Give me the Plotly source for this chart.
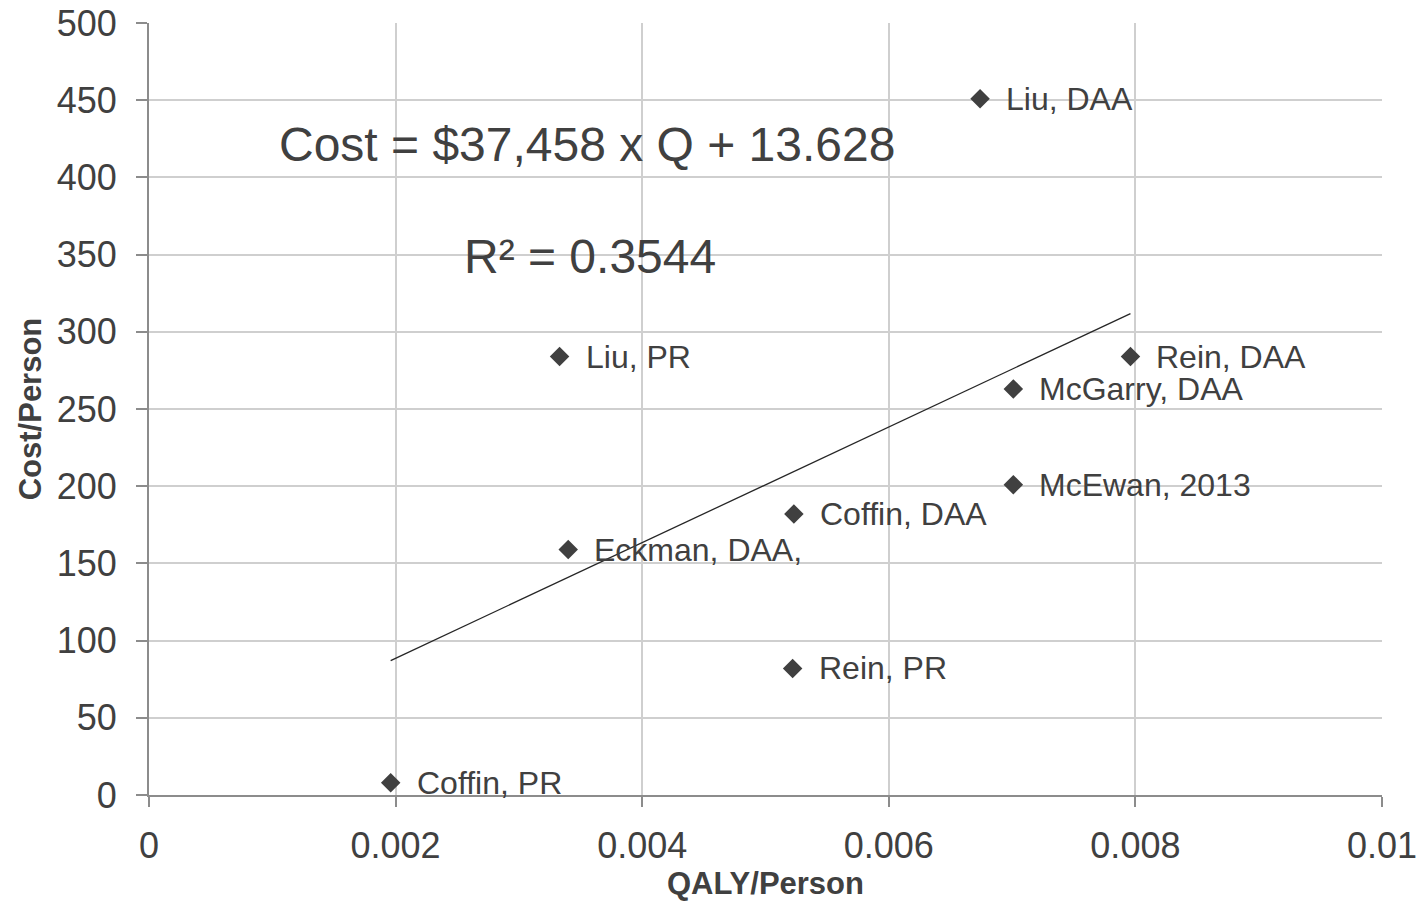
import plotly.graph_objects as go

# Data
labels = ["Liu, DAA", "Liu, PR", "Rein, DAA", "McGarry, DAA", "McEwan, 2013",
          "Coffin, DAA", "Eckman, DAA,", "Rein, PR", "Coffin, PR"]
qaly = [0.00674, 0.00333, 0.00796, 0.00701, 0.00701, 0.00523, 0.00340, 0.00522, 0.00196]
cost = [451, 284, 284, 263, 201, 182, 159, 82, 8]

# Linear trendline (as stated on the chart)
slope = 37458
intercept = 13.628
trend_x = [0.00196, 0.00796]
trend_y = [slope * x + intercept for x in trend_x]

x_tickvals = [0, 0.002, 0.004, 0.006, 0.008, 0.01]
x_ticktext = ["0", "0.002", "0.004", "0.006", "0.008", "0.01"]
y_tickvals = [0, 50, 100, 150, 200, 250, 300, 350, 400, 450, 500]

equation_text = "Cost = $37,458 x Q + 13.628"
r2_text = "R² = 0.3544"

FONT = "Liberation Sans, Arial, sans-serif"
TXT = "#404040"

fig = go.Figure()

fig.add_trace(go.Scatter(
    x=trend_x, y=trend_y, mode="lines",
    line=dict(color="#262626", width=1.3),
    hoverinfo="skip", showlegend=False,
))

fig.add_trace(go.Scatter(
    x=qaly, y=cost, mode="markers",
    marker=dict(symbol="diamond", size=15, color="#404040",
                line=dict(color="#404040", width=0)),
    showlegend=False,
))

annotations = []
for lx, ly, lt in zip(qaly, cost, labels):
    annotations.append(dict(
        x=lx, y=ly, xref="x", yref="y", text=lt, showarrow=False,
        xanchor="left", yanchor="middle", xshift=24, yshift=0,
        font=dict(family=FONT, size=32, color=TXT),
    ))

annotations.append(dict(
    x=0.001038, y=421, xref="x", yref="y", text=equation_text, showarrow=False,
    xanchor="left", yanchor="middle",
    font=dict(family=FONT, size=48, color=TXT),
))
annotations.append(dict(
    x=0.002539, y=349, xref="x", yref="y", text=r2_text, showarrow=False,
    xanchor="left", yanchor="middle",
    font=dict(family=FONT, size=48, color=TXT),
))

fig.update_layout(
    width=1422, height=901,
    margin=dict(l=149, r=40, t=23, b=106),
    paper_bgcolor="white", plot_bgcolor="white",
    font=dict(family=FONT, color=TXT),
    annotations=annotations,
    showlegend=False,
)

fig.update_xaxes(
    range=[0, 0.01], tickvals=x_tickvals, ticktext=x_ticktext,
    automargin=False,
    showgrid=True, gridcolor="#cfcfcf", gridwidth=1.5,
    showline=True, linecolor="#8c8c8c", linewidth=2,
    zeroline=False,
    ticks="outside", ticklen=10, tickcolor="#8c8c8c", tickwidth=2,
    ticklabelstandoff=8,
    tickfont=dict(family=FONT, size=36, color=TXT),
    title=dict(text="<b>QALY/Person</b>", font=dict(family=FONT, size=31, color=TXT), standoff=10),
)
fig.update_yaxes(
    range=[0, 500], tickvals=y_tickvals,
    automargin=False,
    showgrid=True, gridcolor="#cfcfcf", gridwidth=1.5,
    showline=True, linecolor="#8c8c8c", linewidth=2,
    zeroline=False,
    ticks="outside", ticklen=11, tickcolor="#8c8c8c", tickwidth=2,
    ticklabelstandoff=12,
    tickfont=dict(family=FONT, size=36, color=TXT),
    title=dict(text="<b>Cost/Person</b>", font=dict(family=FONT, size=31, color=TXT), standoff=6),
)

fig.write_html("out.html")
